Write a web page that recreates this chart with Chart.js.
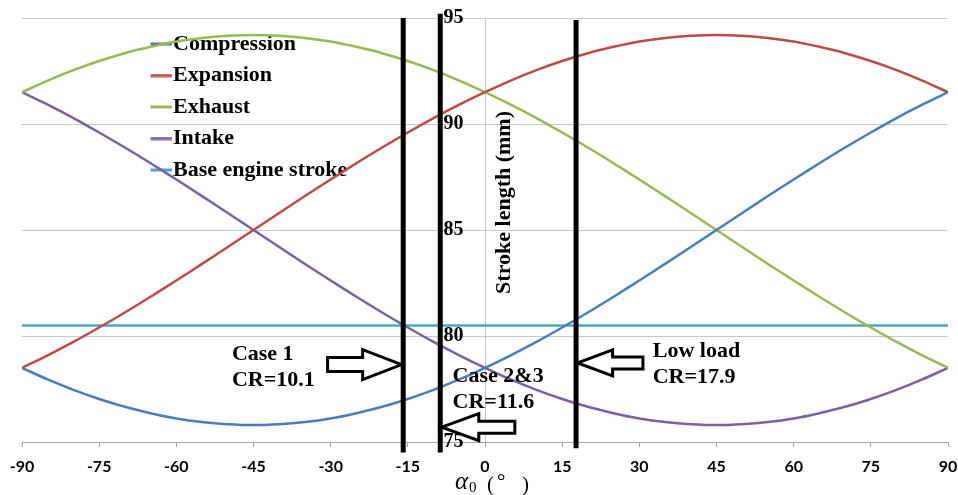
<!DOCTYPE html>
<html>
<head>
<meta charset="utf-8">
<script src="https://cdn.jsdelivr.net/npm/chart.js@4.4.1/dist/chart.umd.min.js"></script>
<style>
    html, body { margin: 0; padding: 0; background: #fff; }
    #chart { display: block; }
</style>
</head>
<body>
<canvas id="chart" width="958" height="495"></canvas>
<script>
// crank angle offset (deg) and stroke lengths (mm)
const angles = [-90, -85, -80, -75, -70, -65, -60, -55, -50, -45, -40, -35, -30, -25, -20, -15, -10, -5, 0,
    5, 10, 15, 20, 25, 30, 35, 40, 45, 50, 55, 60, 65, 70, 75, 80, 85, 90];
const compression = [78.5, 77.95, 77.46, 77.03, 76.66, 76.36, 76.11, 75.94, 75.84, 75.8, 75.84, 75.94, 76.11, 76.36, 76.66, 77.03, 77.46, 77.95, 78.5,
    79.09, 79.72, 80.4, 81.11, 81.85, 82.62, 83.4, 84.2, 85.0, 85.8, 86.6, 87.38, 88.15, 88.89, 89.6, 90.28, 90.91, 91.5];
const expansion = [78.5, 79.09, 79.72, 80.4, 81.11, 81.85, 82.62, 83.4, 84.2, 85.0, 85.8, 86.6, 87.38, 88.15, 88.89, 89.6, 90.28, 90.91, 91.5,
    92.05, 92.54, 92.97, 93.34, 93.64, 93.89, 94.06, 94.16, 94.2, 94.16, 94.06, 93.89, 93.64, 93.34, 92.97, 92.54, 92.05, 91.5];
const exhaust = [91.5, 92.05, 92.54, 92.97, 93.34, 93.64, 93.89, 94.06, 94.16, 94.2, 94.16, 94.06, 93.89, 93.64, 93.34, 92.97, 92.54, 92.05, 91.5,
    90.91, 90.28, 89.6, 88.89, 88.15, 87.38, 86.6, 85.8, 85.0, 84.2, 83.4, 82.62, 81.85, 81.11, 80.4, 79.72, 79.09, 78.5];
const intake = [91.5, 90.91, 90.28, 89.6, 88.89, 88.15, 87.38, 86.6, 85.8, 85.0, 84.2, 83.4, 82.62, 81.85, 81.11, 80.4, 79.72, 79.09, 78.5,
    77.95, 77.46, 77.03, 76.66, 76.36, 76.11, 75.94, 75.84, 75.8, 75.84, 75.94, 76.11, 76.36, 76.66, 77.03, 77.46, 77.95, 78.5];
const baseStroke = 80.5;

const xTickValues = [-90, -75, -60, -45, -30, -15, 0, 15, 30, 45, 60, 75, 90];
const yTickValues = [75, 80, 85, 90, 95];

// thick vertical marker lines (alpha0 of each case) and their extent in mm
const markerX = [-15.9, -8.7, 17.7];
const markerTop = [95.0, 95.2, 94.9];
const markerBottom = [74.5, 74.5, 74.7];

// annotations, placed in data units
const arrowNotes = [
    { tipX: -16.2, tipY: 78.65, tailX: -30.6, head: 39, headHalf: 15, shaftHalf: 7 },
    { tipX: -8.4, tipY: 75.7, tailX: 5.8, head: 37, headHalf: 13.5, shaftHalf: 6 },
    { tipX: 18.0, tipY: 78.73, tailX: 30.7, head: 35, headHalf: 13, shaftHalf: 6 }
];
const textNotes = [
    { x: -49.2, y: 78.87, lines: ['Case 1', 'CR=10.1'] },
    { x: -6.3, y: 77.83, lines: ['Case 2&3', 'CR=11.6'] },
    { x: 32.6, y: 79.0, lines: ['Low load', 'CR=17.9'] }
];

const serifBold = 'bold 22px "Liberation Serif", "Times New Roman", serif';

function legendLine(color) {
    const c = document.createElement('canvas');
    c.width = 26;
    c.height = 4;
    const g = c.getContext('2d');
    g.fillStyle = color;
    g.fillRect(0, 0.5, 24, 3);
    return c;
}

function toPoints(values) {
    return values.map((v, i) => ({ x: angles[i], y: v }));
}

function seriesDataset(label, values, color) {
    return {
        label: label,
        data: toPoints(values),
        borderColor: color,
        backgroundColor: color,
        borderWidth: 2.5,
        pointRadius: 0,
        pointStyle: legendLine(color),
        tension: 0.3,
        fill: false
    };
}

const datasets = [
    seriesDataset('Compression', compression, '#4a7ebb'),
    seriesDataset('Expansion', expansion, '#be4b48'),
    seriesDataset('Exhaust', exhaust, '#98b954'),
    seriesDataset('Intake', intake, '#7d60a0'),
    seriesDataset('Base engine stroke', angles.map(() => baseStroke), '#46aac5')
];
markerX.forEach((x, i) => {
    datasets.push({
        label: 'marker' + i,
        data: [{ x: x, y: markerBottom[i] }, { x: x, y: markerTop[i] }],
        borderColor: '#000',
        borderWidth: 5,
        borderCapStyle: 'butt',
        pointRadius: 0,
        clip: false,
        order: -1
    });
});

const annotationPlugin = {
    id: 'annotations',
    beforeDraw(chart) {
        const area = chart.chartArea;
        const lg = chart.legend;
        lg.left = area.left + 128.5;
        lg.right = lg.left + lg.width;
        lg.top = area.top + 5.5;
        lg.bottom = area.bottom;
    },
    afterDatasetsDraw(chart) {
        const ctx = chart.ctx;
        const xs = chart.scales.x;
        const ys = chart.scales.y;
        ctx.save();

        arrowNotes.forEach(a => {
            const tx = xs.getPixelForValue(a.tipX);
            const ty = ys.getPixelForValue(a.tipY);
            const sx = xs.getPixelForValue(a.tailX);
            const d = sx > tx ? 1 : -1;
            const hx = tx + d * a.head;
            ctx.beginPath();
            ctx.moveTo(tx, ty);
            ctx.lineTo(hx, ty - a.headHalf);
            ctx.lineTo(hx, ty - a.shaftHalf);
            ctx.lineTo(sx, ty - a.shaftHalf);
            ctx.lineTo(sx, ty + a.shaftHalf);
            ctx.lineTo(hx, ty + a.shaftHalf);
            ctx.lineTo(hx, ty + a.headHalf);
            ctx.closePath();
            ctx.fillStyle = '#fff';
            ctx.fill();
            ctx.lineWidth = 3;
            ctx.lineJoin = 'miter';
            ctx.strokeStyle = '#000';
            ctx.stroke();
        });

        ctx.fillStyle = '#000';
        ctx.font = serifBold;
        ctx.textAlign = 'left';
        ctx.textBaseline = 'alphabetic';
        textNotes.forEach(t => {
            const px = xs.getPixelForValue(t.x);
            const py = ys.getPixelForValue(t.y);
            t.lines.forEach((line, i) => ctx.fillText(line, px, py + i * 26));
        });

        // y axis title, right of the axis
        ctx.save();
        ctx.translate(xs.getPixelForValue(0) + 19, ys.getPixelForValue(86.3));
        ctx.rotate(-Math.PI / 2);
        ctx.textAlign = 'center';
        ctx.textBaseline = 'middle';
        ctx.fillText('Stroke length (mm)', 0, 0);
        ctx.restore();

        // x axis title: alpha_0 (deg)
        const x0 = xs.getPixelForValue(0) - 30;
        const base = chart.height - 6;
        ctx.textAlign = 'left';
        ctx.font = 'italic 25px "Liberation Serif", serif';
        ctx.fillText('α', x0, base);
        const aw = ctx.measureText('α').width;
        ctx.font = '15px "Liberation Serif", serif';
        ctx.fillText('0', x0 + aw + 1, base + 3);
        ctx.font = '21px "Liberation Serif", serif';
        ctx.fillText('(', x0 + 32, base + 2);
        ctx.fillText('°', x0 + 42, base - 1);
        ctx.fillText(')', x0 + 67, base + 2);

        ctx.restore();
    }
};

new Chart(document.getElementById('chart'), {
    type: 'line',
    data: { datasets: datasets },
    options: {
        responsive: false,
        animation: false,
        devicePixelRatio: 1,
        layout: { padding: { left: 22, right: 10, top: 18, bottom: 0 } },
        scales: {
            x: {
                type: 'linear',
                min: -90,
                max: 90,
                afterBuildTicks: s => { s.ticks = xTickValues.map(v => ({ value: v })); },
                afterFit: s => { s.height = 53; s.paddingLeft = 0; s.paddingRight = 0; },
                ticks: {
                    color: '#000',
                    padding: 10.5,
                    maxRotation: 0,
                    font: { family: 'Lato', weight: 'bold', size: 16 }
                },
                // only the line at 0 shows: it stands in for the vertical axis
                grid: {
                    drawOnChartArea: true,
                    drawTicks: true,
                    tickLength: 5,
                    color: c => (c.tick && c.tick.value === 0 ? '#c8c8c8' : 'rgba(0,0,0,0)'),
                    tickColor: '#a6a6a6'
                },
                border: { color: '#a6a6a6' }
            },
            y: {
                type: 'linear',
                // labels sit just left of the 0 line, as in the figure
                position: { x: -4.2 },
                min: 75,
                max: 95,
                afterBuildTicks: s => { s.ticks = yTickValues.map(v => ({ value: v })); },
                afterFit: s => { s.width = 0; s.paddingTop = 0; s.paddingBottom = 0; },
                ticks: {
                    color: '#000',
                    padding: 0,
                    font: { family: 'Liberation Serif', weight: 'bold', size: 20 }
                },
                grid: { color: '#c8c8c8', drawTicks: false },
                border: { display: false }
            }
        },
        plugins: {
            tooltip: { enabled: false },
            legend: {
                position: 'chartArea',
                align: 'start',
                labels: {
                    usePointStyle: true,
                    pointStyleWidth: 2,
                    padding: 9.5,
                    color: '#000',
                    font: { family: 'Liberation Serif', weight: 'bold', size: 22 },
                    filter: item => !item.text.startsWith('marker')
                }
            }
        }
    },
    plugins: [annotationPlugin]
});
</script>
</body>
</html>
